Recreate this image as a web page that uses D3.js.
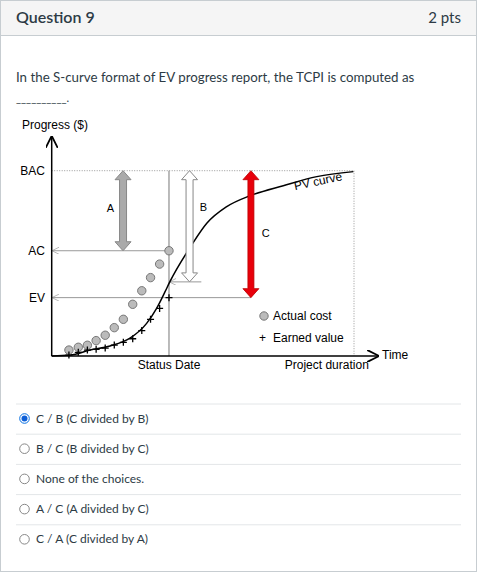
<!DOCTYPE html>
<html>
<head>
<meta charset="utf-8">
<style>
body { margin: 0; background: #fff; }
</style>
</head>
<body>
<script src="https://cdn.jsdelivr.net/npm/d3@7"></script>
<script>
var w = 478, h = 576;

// chart data (time 0..10 = project duration, progress 0..100 = BAC)
var pvT = [0, 0.61, 1.27, 1.93, 2.59, 3.14, 3.47, 3.75, 3.91, 4.63, 5.13, 5.79, 6.56, 7.66, 8.77, 9.98];
var pvV = [0, 0.5, 3.2, 5.4, 9.6, 17.6, 25.7, 34.7, 40.1, 59.9, 71.6, 80.6, 86.5, 91.9, 96.8, 99.5];
var ptT = [0.57, 0.88, 1.18, 1.47, 1.77, 2.07, 2.37, 2.68, 2.98, 3.27, 3.57, 3.88];
var acV = [3.2, 4.7, 5.8, 8.3, 11.2, 15.3, 19.8, 27.9, 35.2, 42.3, 49.6, 56.8];
var evV = [0.5, 2, 3.2, 3.6, 4.3, 5.9, 7.4, 9.3, 13.7, 19.8, 25.7, 31.5];
var statusT = 3.88, bac = 100, acNow = 56.8, evNow = 31.5, pvNow = 40;
var choices = ["C / B (C divided by B)", "B / C (B divided by C)", "None of the choices.",
               "A / C (A divided by C)", "C / A (C divided by A)"];

var svg = d3.select("body").append("svg").attr("width", w).attr("height", h);

// card
svg.append("rect").attr("x", 0.5).attr("y", 0.5).attr("width", 476).attr("height", 571)
   .attr("fill", "#fff").attr("stroke", "#c7cdd1");
svg.append("rect").attr("x", 1).attr("y", 1).attr("width", 475).attr("height", 34).attr("fill", "#f5f5f5");
svg.append("line").attr("x1", 0).attr("x2", 477).attr("y1", 35.5).attr("y2", 35.5).attr("stroke", "#c7cdd1");
svg.append("text").attr("x", 16).attr("y", 23).text("Question 9")
   .style("font", "600 16px Lato").attr("fill", "#2d3b45");
svg.append("text").attr("x", 461).attr("y", 23).attr("text-anchor", "end").text("2 pts")
   .style("font", "15px Lato").attr("fill", "#2d3b45");
svg.append("text").attr("x", 16).attr("y", 82)
   .text("In the S-curve format of EV progress report, the TCPI is computed as")
   .style("font", "13.3px Lato").attr("fill", "#2d3b45");
svg.append("text").attr("x", 16).attr("y", 102).text("__________.")
   .style("font", "11px Lato").attr("fill", "#2d3b45");

// chart
var x = d3.scaleLinear().domain([0, 10]).range([51.7, 354]);
var y = d3.scaleLinear().domain([0, 100]).range([356, 170.7]);
var g = svg.append("g");
var defs = svg.append("defs");
defs.append("marker").attr("id", "ah").attr("viewBox", "0 0 10 10").attr("refX", 9).attr("refY", 5)
  .attr("markerWidth", 8).attr("markerHeight", 8).attr("orient", "auto-start-reverse")
  .append("path").attr("d", "M0,0L10,5L0,10").attr("fill", "none").attr("stroke", "#000").attr("stroke-width", 1.5);
defs.append("marker").attr("id", "ahg").attr("viewBox", "0 0 10 10").attr("refX", 9).attr("refY", 5)
  .attr("markerWidth", 7).attr("markerHeight", 7).attr("orient", "auto-start-reverse")
  .append("path").attr("d", "M0,0L10,5L0,10").attr("fill", "none").attr("stroke", "#999").attr("stroke-width", 1);

var f = "12px 'Liberation Sans', Arial";
// dotted BAC and project duration
g.append("line").attr("x1", x(0)).attr("x2", x(10)).attr("y1", y(bac)).attr("y2", y(bac))
 .attr("stroke", "#999").attr("stroke-dasharray", "1,1.5");
g.append("line").attr("x1", x(10)).attr("x2", x(10)).attr("y1", y(bac)).attr("y2", y(0))
 .attr("stroke", "#999").attr("stroke-dasharray", "1,1.5");
// status line
g.append("line").attr("x1", x(statusT)).attr("x2", x(statusT)).attr("y1", y(bac)).attr("y2", y(0))
 .attr("stroke", "#777");
// AC, EV, PV reference lines
g.append("line").attr("x1", x(statusT)).attr("x2", x(0) + 1).attr("y1", y(acNow)).attr("y2", y(acNow))
 .attr("stroke", "#999").attr("marker-end", "url(#ahg)");
g.append("line").attr("x1", x(6.59)).attr("x2", x(0) + 1).attr("y1", y(evNow)).attr("y2", y(evNow))
 .attr("stroke", "#999").attr("marker-end", "url(#ahg)");
g.append("line").attr("x1", x(4.95)).attr("x2", x(statusT) + 1).attr("y1", y(pvNow)).attr("y2", y(pvNow))
 .attr("stroke", "#999").attr("marker-end", "url(#ahg)");

// axes
g.append("line").attr("x1", x(0)).attr("x2", x(0)).attr("y1", y(0)).attr("y2", 137)
 .attr("stroke", "#000").attr("stroke-width", 1.5).attr("marker-end", "url(#ah)");
g.append("line").attr("x1", x(0)).attr("x2", 378).attr("y1", y(0)).attr("y2", y(0))
 .attr("stroke", "#000").attr("stroke-width", 1.5).attr("marker-end", "url(#ah)");

g.append("text").attr("x", 22).attr("y", 129).text("Progress ($)").style("font", f);
[["BAC", bac], ["AC", acNow], ["EV", evNow]].forEach(function (d) {
  g.append("text").attr("x", 45).attr("y", y(d[1]) + 4).attr("text-anchor", "end").text(d[0]).style("font", f);
});
g.append("text").attr("x", x(statusT)).attr("y", 369).attr("text-anchor", "middle").text("Status Date").style("font", f);
g.append("text").attr("x", x(9.1)).attr("y", 369).attr("text-anchor", "middle").text("Project duration").style("font", f);
g.append("text").attr("x", 382).attr("y", 359).text("Time").style("font", f);

// PV curve
g.append("path").datum(d3.zip(pvT, pvV))
 .attr("d", d3.line().x(function (d) { return x(d[0]); }).y(function (d) { return y(d[1]); }).curve(d3.curveMonotoneX))
 .attr("fill", "none").attr("stroke", "#000").attr("stroke-width", 1.5);
g.append("text").attr("transform", "translate(" + x(8.05) + "," + y(89.5) + ") rotate(-12)")
 .text("PV curve").style("font", f);

// AC points
g.selectAll(".ac").data(d3.zip(ptT, acV)).enter().append("circle")
 .attr("cx", function (d) { return x(d[0]); }).attr("cy", function (d) { return y(d[1]); })
 .attr("r", 4.2).attr("fill", "#bbb").attr("stroke", "#777");
// EV points
g.selectAll(".ev").data(d3.zip(ptT, evV)).enter().append("path")
 .attr("d", function (d) { var cx = x(d[0]), cy = y(d[1]);
   return "M" + (cx - 3.5) + "," + cy + "H" + (cx + 3.5) + "M" + cx + "," + (cy - 3.5) + "V" + (cy + 3.5); })
 .attr("stroke", "#000").attr("stroke-width", 1.3);

// double arrows
function dbl(t, v0, v1, fill, stroke, hw, sw) {
  var cx = x(t), ya = y(v0), yb = y(v1), hh = 9, aw = 8;
  var p = "M" + cx + "," + ya + "L" + (cx + aw) + "," + (ya + hh) + "L" + (cx + hw) + "," + (ya + hh) +
    "L" + (cx + hw) + "," + (yb - hh) + "L" + (cx + aw) + "," + (yb - hh) + "L" + cx + "," + yb +
    "L" + (cx - aw) + "," + (yb - hh) + "L" + (cx - hw) + "," + (yb - hh) + "L" + (cx - hw) + "," + (ya + hh) +
    "L" + (cx - aw) + "," + (ya + hh) + "Z";
  g.append("path").attr("d", p).attr("fill", fill).attr("stroke", stroke).attr("stroke-width", sw);
}
dbl(2.36, bac, acNow, "#aaa", "#888", 3.5, 1);
dbl(4.56, bac, pvNow, "#fff", "#888", 3.5, 1);
dbl(6.59, bac, evNow, "#e8000b", "#b00", 3, 0.8);
g.append("text").attr("x", x(1.82)).attr("y", 212).text("A").style("font", "11px 'Liberation Sans'");
g.append("text").attr("x", x(4.9)).attr("y", 211).text("B").style("font", "11px 'Liberation Sans'");
g.append("text").attr("x", x(6.95)).attr("y", 237).text("C").style("font", "11px 'Liberation Sans'");

// legend
g.append("circle").attr("cx", 264).attr("cy", 316).attr("r", 4.2).attr("fill", "#bbb").attr("stroke", "#777");
g.append("text").attr("x", 273).attr("y", 320).text("Actual cost").style("font", f);
g.append("text").attr("x", 259).attr("y", 342).text("+").style("font", f);
g.append("text").attr("x", 273).attr("y", 342).text("Earned value").style("font", f);

// choices
choices.forEach(function (c, i) {
  var yy = 404 + i * 30.2;
  svg.append("line").attr("x1", 16).attr("x2", 461).attr("y1", yy).attr("y2", yy).attr("stroke", "#e3e6e8");
  svg.append("circle").attr("cx", 24.5).attr("cy", yy + 14.5).attr("r", 4.8)
     .attr("fill", "#fff").attr("stroke", i === 0 ? "#0770e3" : "#888");
  if (i === 0) svg.append("circle").attr("cx", 24.5).attr("cy", yy + 14.5).attr("r", 3).attr("fill", "#0b5ed7");
  svg.append("text").attr("x", 36).attr("y", yy + 18.5).text(c).style("font", "12px Lato").attr("fill", "#2d3b45");
});
</script>
</body>
</html>
